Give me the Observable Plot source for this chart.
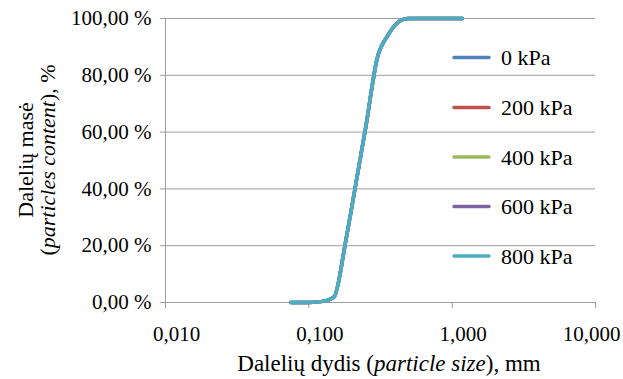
<!DOCTYPE html>
<html><head><meta charset="utf-8">
<script src="https://cdn.jsdelivr.net/npm/d3@7"></script>
<script src="https://cdn.jsdelivr.net/npm/@observablehq/plot@0.6"></script>
<style>html,body{margin:0;padding:0;background:#fff} svg{display:block}</style>
</head><body><div id="chart"></div>
<script>
// particle size (mm)
const particleSize = [0.075, 0.1, 0.125, 0.15, 0.18, 0.2, 0.25, 0.3, 0.355, 0.45, 0.5, 0.63, 0.8, 1.0, 1.18];
// particle content (%) for each load
const kPa0   = [0, 0, 0.4, 2.0, 21, 34, 62, 86, 94, 99.6, 100, 100, 100, 100, 100];
const kPa200 = [0, 0, 0.4, 2.0, 21, 34, 62, 86, 94, 99.6, 100, 100, 100, 100, 100];
const kPa400 = [0, 0, 0.4, 2.0, 21, 34, 62, 86, 94, 99.6, 100, 100, 100, 100, 100];
const kPa600 = [0, 0, 0.4, 2.0, 21, 34, 62, 86, 94, 99.6, 100, 100, 100, 100, 100];
const kPa800 = [0, 0, 0.4, 2.0, 21, 34, 62, 86, 94, 99.6, 100, 100, 100, 100, 100];
const seriesNames = ["0 kPa", "200 kPa", "400 kPa", "600 kPa", "800 kPa"];
const seriesColors = ["#4F81BD", "#C0504D", "#9BBB59", "#8064A2", "#4BACC6"];
const xTicks = [0.01, 0.1, 1, 10];
const yTicks = [0, 20, 40, 60, 80, 100];
const xTitle = ["Dalelių dydis (", "particle size", "), mm"];
const yTitle1 = "Dalelių masė";
const yTitle2 = ["(", "particles content", "), %"];

const seriesValues = [kPa0, kPa200, kPa400, kPa600, kPa800];
const rows = seriesNames.flatMap((name, i) =>
  particleSize.map((s, j) => ({series: name, size: s, pct: seriesValues[i][j]})));

const FONT = "'Liberation Serif','Times New Roman',serif";
const GRID = "#9d9d9d";
const xFmt = d => d.toFixed(3).replace(".", ",");
const yFmt = d => d.toFixed(2).replace(".", ",") + " %";

const chart = Plot.plot({
  width: 623, height: 379,
  marginLeft: 165, marginRight: 28, marginTop: 18, marginBottom: 77,
  style: "font-family: 'Liberation Serif','Times New Roman',serif; font-size: 21px; color: #000; background: #fff; overflow: visible;",
  x: {type: "log", domain: [0.01, 10]},
  y: {domain: [0, 100]},
  color: {domain: seriesNames, range: seriesColors},
  marks: [
    Plot.ruleY(yTicks, {stroke: GRID, strokeWidth: 1}),
    Plot.ruleX([0.01], {stroke: GRID, strokeWidth: 1}),
    Plot.axisX({ticks: xTicks, tickFormat: () => "", tickSize: 6, label: null, stroke: GRID}),
    Plot.axisX({ticks: xTicks.slice(0, 3), tickFormat: xFmt, tickSize: 0, tickPadding: 24, dx: 11, label: null, fill: "#000"}),
    Plot.axisX({ticks: xTicks.slice(3), tickFormat: xFmt, tickSize: 0, tickPadding: 24, dx: -4, label: null, fill: "#000"}),
    Plot.axisY({ticks: yTicks, tickFormat: yFmt, tickSize: 5, tickPadding: 9, label: null, stroke: GRID, fill: "#000"}),
    Plot.line(rows, {x: "size", y: "pct", z: "series", stroke: "series", strokeWidth: 3.5,
      curve: "monotone-x", strokeLinecap: "round", strokeLinejoin: "round"})
  ]
});
document.getElementById("chart").appendChild(chart);

const svg = d3.select(chart);
// x axis title
const xt = svg.append("text").attr("x", 389).attr("y", 371).attr("text-anchor", "middle")
  .attr("font-family", FONT).attr("font-size", 23).attr("fill", "#000");
xTitle.forEach((t, i) => xt.append("tspan").attr("font-style", i === 1 ? "italic" : "normal").text(t));

// y axis title (two lines, rotated)
const yg = svg.append("g").attr("transform", "rotate(-90)")
  .attr("font-family", FONT).attr("font-size", 22).attr("fill", "#000").attr("text-anchor", "middle");
yg.append("text").attr("x", -160).attr("y", 25).attr("dominant-baseline", "central").text(yTitle1);
const y2 = yg.append("text").attr("x", -160).attr("y", 47).attr("dominant-baseline", "central");
yTitle2.forEach((t, i) => y2.append("tspan").attr("font-style", i === 1 ? "italic" : "normal").text(t));

// legend
const legendY = [57.5, 107.5, 157, 206.5, 256];
const lg = svg.append("g").attr("font-family", FONT).attr("font-size", 22).attr("text-anchor", "start");
seriesNames.forEach((name, i) => {
  lg.append("line").attr("x1", 454).attr("x2", 489).attr("y1", legendY[i]).attr("y2", legendY[i])
    .attr("stroke", seriesColors[i]).attr("stroke-width", 3.5).attr("stroke-linecap", "round");
  lg.append("text").attr("x", 501).attr("y", legendY[i]).attr("dominant-baseline", "central")
    .attr("fill", "#000").text(name);
});
</script>
</body></html>
